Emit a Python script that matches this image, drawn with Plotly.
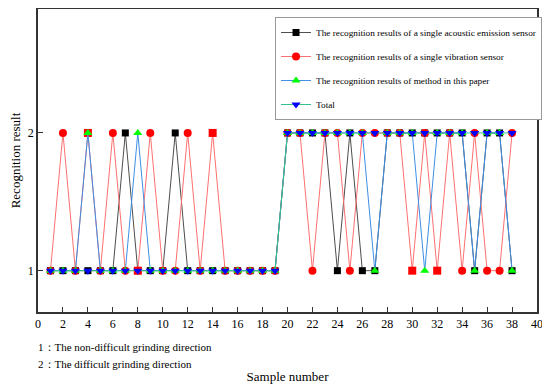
import plotly.graph_objects as go

samples = list(range(1, 39))
acoustic = [1,1,1,1,1,1,2,1,1,1,2,1,1,1,1,1,1,1,1,
            2,2,2,2,1,2,1,1,2,2,2,2,2,2,2,1,2,2,1]
vibration = [1,2,1,2,1,2,1,1,2,1,1,2,1,2,1,1,1,1,1,
             2,2,1,2,2,1,2,2,2,2,1,2,1,2,1,2,1,1,2]
vibration_symbols = ["circle"]*38
for s in (4, 8, 14, 30, 32):
    vibration_symbols[s-1] = "square"
method = [1,1,1,2,1,1,1,2,1,1,1,1,1,1,1,1,1,1,1,
          2,2,2,2,2,2,2,1,2,2,2,1,2,2,2,1,2,2,1]
total = [1]*19 + [2]*19

names = ["The recognition results of a single acoustic emission sensor",
         "The recognition results of a single vibration sensor",
         "The recognition results of method in this paper",
         "Total"]
x_ticks = list(range(0, 41, 2))
y_ticks = [1, 2]

FONT = "Liberation Serif"

fig = go.Figure()
fig.add_trace(go.Scatter(x=samples, y=acoustic, name=names[0], mode="lines+markers",
                         legendgroup="a",
                         line=dict(color="#4d4d4d", width=1),
                         marker=dict(symbol="square", size=7, color="#000000")))
fig.add_trace(go.Scatter(x=samples, y=vibration, name=names[1], mode="lines+markers",
                         legendgroup="b",
                         line=dict(color="#ff7070", width=1),
                         marker=dict(symbol=vibration_symbols, size=8, color="#ff0000")))
fig.add_trace(go.Scatter(x=samples, y=method, name=names[2], mode="lines+markers",
                         legendgroup="c",
                         line=dict(color="#3d8fe6", width=1),
                         marker=dict(symbol="triangle-up", size=8, color="#00ff00")))
fig.add_trace(go.Scatter(x=samples, y=total, name=names[3], mode="lines+markers",
                         legendgroup="d",
                         line=dict(color="#2ec28a", width=1),
                         marker=dict(symbol="triangle-down", size=8, color="#0000ff")))

axis_common = dict(showline=True, linecolor="#333333", linewidth=1.5, mirror=True,
                   ticks="inside", ticklen=5, tickcolor="#333333", tickwidth=1,
                   showgrid=False, zeroline=False,
                   tickfont=dict(family=FONT, size=12, color="#000"))
fig.update_xaxes(range=[0, 40], tickvals=x_ticks, **axis_common,
                 title=dict(text="Sample number", standoff=44,
                            font=dict(family=FONT, size=13, color="#000")))
fig.update_yaxes(range=[0.7, 2.9], tickvals=y_ticks, **axis_common,
                 title=dict(text="Recognition result", standoff=6,
                            font=dict(family=FONT, size=13, color="#000")))

fig.add_annotation(text="1：The non-difficult grinding direction", xref="paper", yref="paper",
                   x=-0.005, y=-0.1155, xanchor="left", yanchor="middle", showarrow=False,
                   font=dict(family=FONT, size=11, color="#000"))
fig.add_annotation(text="2：The difficult grinding direction", xref="paper", yref="paper",
                   x=-0.005, y=-0.1716, xanchor="left", yanchor="middle", showarrow=False,
                   font=dict(family=FONT, size=11, color="#000"))

fig.update_layout(
    width=542, height=376,
    margin=dict(l=29.5, r=12.5, t=1, b=72, autoexpand=False),
    plot_bgcolor="white", paper_bgcolor="white",
    font=dict(family=FONT, color="#000"),
    legend=dict(x=0.475, y=0.9736, xanchor="left", yanchor="top",
                bordercolor="#999999", borderwidth=1, bgcolor="white",
                font=dict(family=FONT, size=9.25, color="#000"),
                tracegroupgap=5, traceorder="grouped", itemwidth=30),
    showlegend=True,
)

fig.write_html("out.html")
